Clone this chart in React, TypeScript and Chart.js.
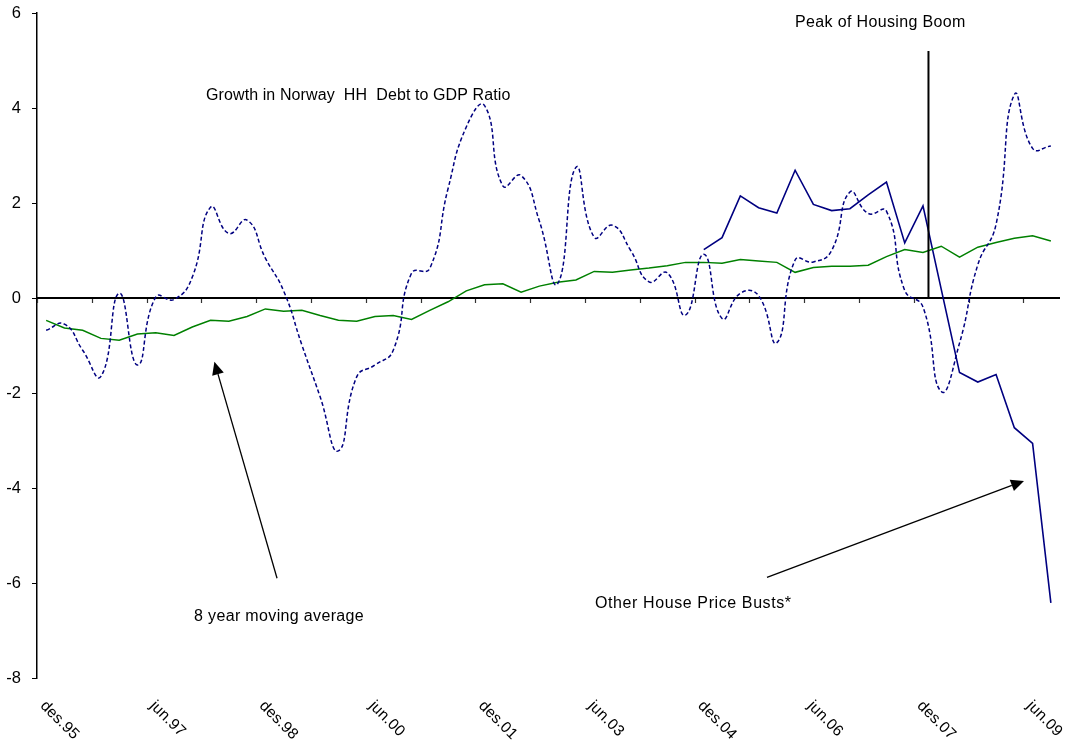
import React, { useEffect, useRef } from 'react';
import { Chart, registerables } from 'chart.js';

Chart.register(...registerables);

// Quarterly categories, des.95 .. sep.09
const monthNames = ['mar', 'jun', 'sep', 'des'];
const quarters: string[] = Array.from({ length: 56 }, (_, i) => {
  const m = monthNames[(i + 3) % 4];
  const y = (95 + Math.floor((i + 3) / 4)) % 100;
  return `${m}.${String(y).padStart(2, '0')}`;
});

const shownLabels = ['des.95', 'jun.97', 'des.98', 'jun.00', 'des.01', 'jun.03', 'des.04', 'jun.06', 'des.07', 'jun.09'];

// Growth in Norway HH debt to GDP ratio (smoothed, dashed)
const norwayDebtGrowth = [
  -0.68, -0.55, -1.10, -1.65, 0.10, -1.41, 0.02, -0.03, 0.44, 1.91,
  1.36, 1.64, 0.84, 0.15, -0.99, -2.08, -3.22, -1.66, -1.41, -1.10,
  0.52, 0.62, 2.30, 3.60, 4.05, 2.36, 2.58, 1.62, 0.30, 2.75,
  1.28, 1.53, 1.00, 0.34, 0.53, -0.36, 0.92, -0.43, 0.10, 0.05,
  -0.94, 0.80, 0.76, 1.00, 2.23, 1.78, 1.83, 0.16, -0.19, -1.97,
  -0.95, 0.70, 1.55, 4.28, 3.15, 3.20,
];

// 8 year moving average
const movingAverage8y = [
  -0.47, -0.63, -0.68, -0.85, -0.89, -0.76, -0.73, -0.79, -0.61, -0.47,
  -0.49, -0.39, -0.23, -0.28, -0.26, -0.37, -0.47, -0.49, -0.39, -0.37,
  -0.45, -0.26, -0.08, 0.15, 0.28, 0.30, 0.12, 0.25, 0.33, 0.38,
  0.56, 0.54, 0.59, 0.63, 0.68, 0.75, 0.75, 0.73, 0.81, 0.78,
  0.75, 0.54, 0.64, 0.67, 0.67, 0.69, 0.87, 1.02, 0.96, 1.09,
  0.86, 1.07, 1.17, 1.26, 1.31, 1.20,
];

// Other house price busts
const otherBusts: (number | null)[] = [
  ...Array(36).fill(null),
  1.02, 1.27, 2.15, 1.90, 1.79, 2.69, 1.97, 1.84, 1.88, 2.17,
  2.44, 1.16, 1.94, 0.18, -1.57, -1.77, -1.61, -2.73, -3.06, -6.42,
];

// Peak of housing boom marker (category position, top value)
const peakMarker = { index: 48.3, top: 5.2 };

const FONT = '"Liberation Sans", Arial, Helvetica, sans-serif';

const overlayPlugin = {
  id: 'overlay',
  beforeDatasetsDraw(chart: any) {
    const { ctx, chartArea, scales } = chart;
    const x = scales.x;
    const y = scales.y;
    const y0 = y.getPixelForValue(0);
    ctx.save();
    ctx.strokeStyle = '#333';
    ctx.lineWidth = 1.2;
    ctx.beginPath();
    for (let b = 0; b <= quarters.length; b += 3) {
      const px = Math.round(x.getPixelForValue(b - 0.5)) + 0.5;
      ctx.moveTo(px, y0);
      ctx.lineTo(px, y0 + 5);
    }
    ctx.stroke();
    ctx.strokeStyle = '#000';
    ctx.lineWidth = 2.2;
    ctx.beginPath();
    ctx.moveTo(chartArea.left, y0);
    ctx.lineTo(chartArea.right, y0);
    ctx.stroke();
    ctx.restore();
  },
  afterDatasetsDraw(chart: any) {
    const { ctx, scales } = chart;
    const x = scales.x;
    const y = scales.y;
    const px = (i: number) => x.getPixelForValue(i);
    const py = (v: number) => y.getPixelForValue(v);
    ctx.save();

    ctx.strokeStyle = '#000';
    ctx.lineWidth = 2;
    ctx.beginPath();
    ctx.moveTo(px(peakMarker.index), py(0));
    ctx.lineTo(px(peakMarker.index), py(peakMarker.top));
    ctx.stroke();

    const arrow = (x1: number, y1: number, x2: number, y2: number) => {
      const ang = Math.atan2(y2 - y1, x2 - x1);
      const hl = 13, hw = 6;
      const bx = x2 - hl * Math.cos(ang);
      const by = y2 - hl * Math.sin(ang);
      ctx.strokeStyle = '#000';
      ctx.lineWidth = 1.3;
      ctx.beginPath();
      ctx.moveTo(x1, y1);
      ctx.lineTo(bx, by);
      ctx.stroke();
      ctx.fillStyle = '#000';
      ctx.beginPath();
      ctx.moveTo(x2, y2);
      ctx.lineTo(bx + hw * Math.sin(ang), by - hw * Math.cos(ang));
      ctx.lineTo(bx - hw * Math.sin(ang), by + hw * Math.cos(ang));
      ctx.closePath();
      ctx.fill();
    };
    arrow(px(12.64), py(-5.9), px(9.21), py(-1.34));
    arrow(px(39.46), py(-5.88), px(53.53), py(-3.85));

    ctx.fillStyle = '#000';
    ctx.font = `16px ${FONT}`;
    ctx.textAlign = 'left';
    ctx.textBaseline = 'alphabetic';
    (ctx as any).letterSpacing = '0.1px';
    ctx.fillText('Growth in Norway  HH  Debt to GDP Ratio', 206, 99.5);
    (ctx as any).letterSpacing = '0.35px';
    ctx.fillText('Peak of Housing Boom', 795, 26.5);
    ctx.fillText('8 year moving average', 194, 621);
    (ctx as any).letterSpacing = '0.6px';
    ctx.fillText('Other House Price Busts*', 595, 607.5);

    (ctx as any).letterSpacing = '0.2px';
    ctx.font = `15.5px ${FONT}`;
    ctx.textBaseline = 'top';
    shownLabels.forEach((lab) => {
      const idx = quarters.indexOf(lab);
      if (idx < 0) return;
      ctx.save();
      ctx.translate(px(idx) + 2, 698);
      ctx.rotate(Math.PI / 4);
      ctx.fillText(lab, 0, 0);
      ctx.restore();
    });
    ctx.restore();
  },
};

export default function App() {
  const ref = useRef<HTMLCanvasElement | null>(null);
  useEffect(() => {
    if (!ref.current) return;
    const chart = new Chart(ref.current, {
      type: 'line',
      data: {
        labels: quarters,
        datasets: [
          {
            label: 'Growth in Norway HH Debt to GDP Ratio',
            data: norwayDebtGrowth,
            borderColor: '#000080',
            borderWidth: 1.5,
            borderDash: [4, 2.5],
            pointRadius: 0,
            tension: 0.5,
            fill: false,
          },
          {
            label: '8 year moving average',
            data: movingAverage8y,
            borderColor: '#008000',
            borderWidth: 1.5,
            pointRadius: 0,
            tension: 0,
            fill: false,
          },
          {
            label: 'Other House Price Busts*',
            data: otherBusts,
            borderColor: '#000080',
            borderWidth: 1.6,
            pointRadius: 0,
            tension: 0,
            fill: false,
          },
        ],
      },
      options: {
        responsive: false,
        animation: false,
        devicePixelRatio: 1,
        layout: { padding: { left: 0, right: 12, top: 13, bottom: 68 } },
        plugins: { legend: { display: false }, tooltip: { enabled: false } },
        scales: {
          x: {
            type: 'category',
            display: false,
            offset: true,
          },
          y: {
            min: -8,
            max: 6,
            afterFit: (scale: any) => {
              scale.width = 37;
              scale.paddingTop = 0;
              scale.paddingBottom = 0;
            },
            ticks: {
              stepSize: 2,
              color: '#000',
              padding: 11,
              font: { family: FONT, size: 16.5 },
            },
            grid: {
              drawOnChartArea: false,
              drawTicks: true,
              tickLength: 5,
              color: '#000',
              lineWidth: 1,
            },
            border: { display: true, color: '#000', width: 1.5 },
          },
        },
      },
      plugins: [overlayPlugin],
    });
    return () => chart.destroy();
  }, []);
  return (
    <div style={{ position: 'absolute', left: 0, top: 0, width: 1072, height: 746, background: '#fff' }}>
      <canvas ref={ref} width={1072} height={746} />
    </div>
  );
}
